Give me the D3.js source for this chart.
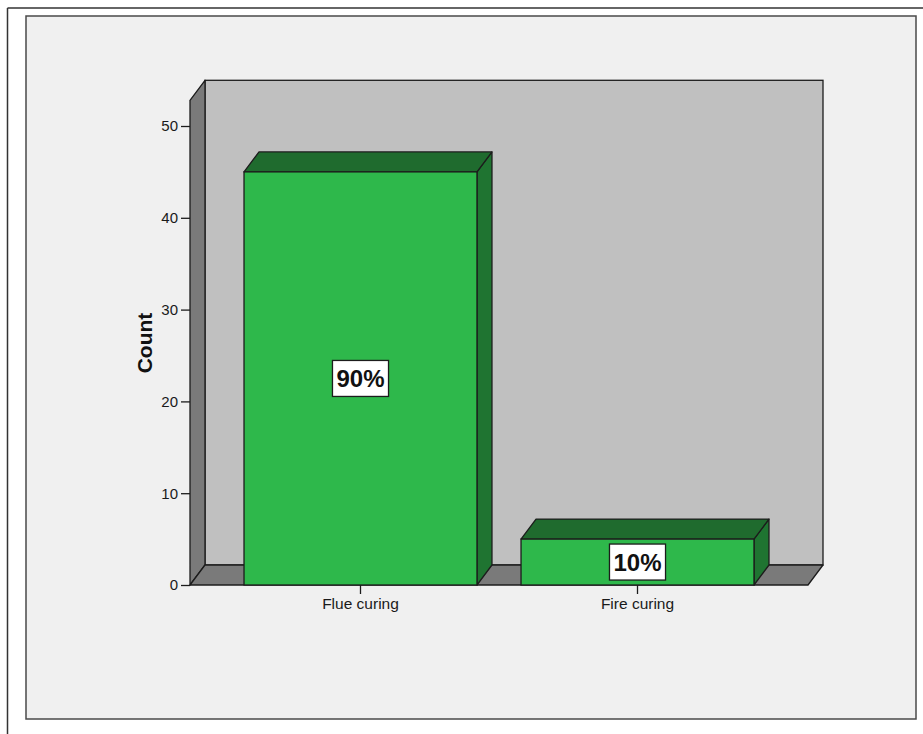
<!DOCTYPE html>
<html>
<head>
<meta charset="utf-8">
<script src="https://cdn.jsdelivr.net/npm/d3@7/dist/d3.min.js"></script>
<style>
  html, body { margin: 0; padding: 0; background: #ffffff; }
  svg { display: block; }
  text { font-family: "Liberation Sans", Arial, sans-serif; }
</style>
</head>
<body>
<svg id="chart" width="923" height="734"></svg>
<script>
// Curing method counts
const categories = ["Flue curing", "Fire curing"];
const counts = [45, 5];
const yTicks = [0, 10, 20, 30, 40, 50];
const yAxisTitle = "Count";

const W = 923, H = 734;
const svg = d3.select("#chart");

// 3-D depth offset of the chart box
const DX = 15, DY = -20;
const STROKE = "#1c1c1c";

// Outer frame lines
svg.append("line").attr("x1", 7.5).attr("y1", 8).attr("x2", W).attr("y2", 8)
  .attr("stroke", "#333").attr("stroke-width", 1.5);
svg.append("line").attr("x1", 7.5).attr("y1", 8).attr("x2", 7.5).attr("y2", H)
  .attr("stroke", "#333").attr("stroke-width", 1.5);

// Chart panel
svg.append("rect").attr("x", 26).attr("y", 16).attr("width", 890).attr("height", 703)
  .attr("fill", "#f0f0f0").attr("stroke", "#4a4a4a").attr("stroke-width", 1.5);

const x = d3.scaleBand().domain(categories).range([190, 808])
  .paddingInner(0.159).paddingOuter(0.195);
const y = d3.scaleLinear().domain([0, 50]).range([585, 126]);
const yTopValue = 52.8;

const x0 = x.range()[0], x1 = x.range()[1];
const yb = y(0), yt = y(yTopValue);

const g = svg.append("g");

// Back wall
g.append("rect")
  .attr("x", x0 + DX).attr("y", yt + DY)
  .attr("width", x1 - x0).attr("height", yb - yt)
  .attr("fill", "#c0c0c0").attr("stroke", STROKE).attr("stroke-width", 1.3);

// Left wall
g.append("polygon")
  .attr("points", [[x0, yb], [x0, yt], [x0 + DX, yt + DY], [x0 + DX, yb + DY]].join(" "))
  .attr("fill", "#7a7a7a").attr("stroke", STROKE).attr("stroke-width", 1.3)
  .attr("stroke-linejoin", "round");

// Floor
g.append("polygon")
  .attr("points", [[x0, yb], [x1, yb], [x1 + DX, yb + DY], [x0 + DX, yb + DY]].join(" "))
  .attr("fill", "#7a7a7a").attr("stroke", STROKE).attr("stroke-width", 1.3)
  .attr("stroke-linejoin", "round");

// Bars
const total = d3.sum(counts);
const data = categories.map((c, i) => ({ cat: c, v: counts[i], pct: Math.round(counts[i] / total * 100) }));
const bw = x.bandwidth();

const bars = g.selectAll("g.bar").data(data).join("g").attr("class", "bar");

bars.append("polygon") // right side
  .attr("points", d => {
    const l = x(d.cat), r = l + bw, t = y(d.v);
    return [[r, t], [r + DX, t + DY], [r + DX, yb + DY], [r, yb]].join(" ");
  })
  .attr("fill", "#1f7431").attr("stroke", STROKE).attr("stroke-width", 1.3)
  .attr("stroke-linejoin", "round");

bars.append("polygon") // top
  .attr("points", d => {
    const l = x(d.cat), r = l + bw, t = y(d.v);
    return [[l, t], [l + DX, t + DY], [r + DX, t + DY], [r, t]].join(" ");
  })
  .attr("fill", "#1f6b2e").attr("stroke", STROKE).attr("stroke-width", 1.3)
  .attr("stroke-linejoin", "round");

bars.append("rect") // front
  .attr("x", d => x(d.cat)).attr("y", d => y(d.v))
  .attr("width", bw).attr("height", d => yb - y(d.v))
  .attr("fill", "#2eb84b").attr("stroke", STROKE).attr("stroke-width", 1.3);

// Percentage labels
const lab = bars.append("g")
  .attr("transform", d => `translate(${x(d.cat) + bw / 2},${y(d.v / 2)})`);
const labText = lab.append("text")
  .attr("text-anchor", "middle").attr("dy", "0.36em")
  .attr("font-size", 24).attr("font-weight", "bold").attr("fill", "#111")
  .text(d => d.pct + "%");
lab.each(function () {
  const t = d3.select(this).select("text").node().getBBox();
  d3.select(this).insert("rect", "text")
    .attr("x", -t.width / 2 - 4).attr("y", -18)
    .attr("width", t.width + 8).attr("height", 36)
    .attr("fill", "#ffffff").attr("stroke", STROKE).attr("stroke-width", 1.3);
});

// Y axis
const yAxis = svg.append("g").attr("transform", `translate(${x0},0)`)
  .call(d3.axisLeft(y).tickValues(yTicks).tickSize(9).tickPadding(3));
yAxis.select(".domain").remove();
yAxis.selectAll(".tick line").attr("stroke", STROKE).attr("stroke-width", 1.3);
yAxis.selectAll(".tick text").attr("font-size", 15).attr("fill", "#1a1a1a")
  .style("font-family", '"Liberation Sans", Arial, sans-serif');

// X axis
const xAxis = svg.append("g").attr("transform", `translate(0,${yb})`)
  .call(d3.axisBottom(x).tickSize(9).tickPadding(4));
xAxis.select(".domain").remove();
xAxis.selectAll(".tick line").attr("stroke", STROKE).attr("stroke-width", 1.3);
xAxis.selectAll(".tick text").attr("font-size", 15.5).attr("fill", "#1a1a1a")
  .style("font-family", '"Liberation Sans", Arial, sans-serif');

// Y axis title
svg.append("text")
  .attr("transform", `translate(152,343) rotate(-90)`)
  .attr("text-anchor", "middle")
  .attr("font-size", 21).attr("font-weight", "bold").attr("fill", "#111")
  .text(yAxisTitle);
</script>
</body>
</html>
